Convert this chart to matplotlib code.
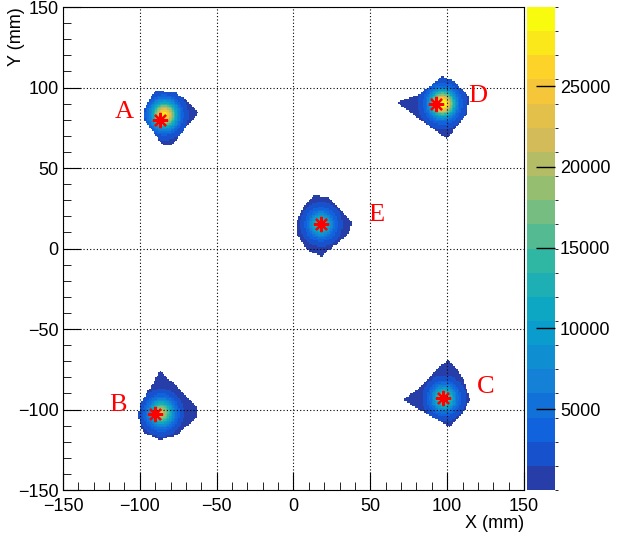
import numpy as np
import matplotlib.pyplot as plt
from matplotlib.colors import LinearSegmentedColormap, BoundaryNorm
from matplotlib.path import Path

# spot labels and the points (mm)
names = ["A", "B", "C", "D", "E"]
peak_x = [-84, -86, 98, 97, 18]
peak_y = [83, -102, -93, 90, 15]
peak_val = [27500, 20500, 17000, 29500, 14500]
star_x = [-87, -90, 97, 93, 18]
star_y = [80, -103, -93, 90, 15]
label_x = [-110, -114, 125, 120, 54]
label_y = [85, -97, -86, 95, 21]

# outlines of the filled regions
outline_A = [(-90, 98), (-77, 97), (-69, 92), (-62, 85), (-63, 82), (-71, 74),
             (-79, 64), (-85, 64), (-91, 72), (-97, 80), (-97, 86), (-93, 94)]
outline_B = [(-87, -76), (-80, -82), (-69, -92), (-63, -98), (-63, -105),
             (-76, -116), (-87, -119), (-98, -114), (-101, -105), (-100, -97),
             (-93, -86)]
outline_C = [(101, -69), (106, -74), (111, -82), (115, -94), (110, -102),
             (102, -111), (89, -104), (71, -94), (80, -88), (93, -75)]
outline_D = [(67, 91), (82, 96), (97, 107), (106, 103), (114, 94), (113, 84),
             (100, 68), (87, 77), (71, 88)]
outline_E = [(13, 33), (22, 32), (32, 23), (38, 16), (36, 9), (18, -5),
             (9, -1), (2, 9), (2, 17), (7, 27)]
outlines = [outline_A, outline_B, outline_C, outline_D, outline_E]

zmax = 29900
nlev = 20

# ROOT kBird palette
stops = [0.0, 0.125, 0.25, 0.375, 0.5, 0.625, 0.75, 0.875, 1.0]
red = [0.2082, 0.0592, 0.0780, 0.0232, 0.1802, 0.5301, 0.8186, 0.9956, 0.9764]
green = [0.1664, 0.3599, 0.5041, 0.6419, 0.7178, 0.7492, 0.7328, 0.7862, 0.9832]
blue = [0.5293, 0.8684, 0.8385, 0.7914, 0.6425, 0.4662, 0.3499, 0.1968, 0.0539]
bird = LinearSegmentedColormap.from_list(
    "bird", list(zip(stops, zip(red, green, blue))))
# colour picked per contour level the way ROOT does it
cols = [bird(int((i + 0.99) * 255 / nlev) / 254) for i in range(nlev)]
cmap = LinearSegmentedColormap.from_list("bird20", cols, N=nlev)
levels = np.linspace(0, zmax, nlev + 1)
norm = BoundaryNorm(levels, nlev)

edges = np.arange(-150, 151, 1.0)
cx = 0.5 * (edges[:-1] + edges[1:])
X, Y = np.meshgrid(cx, cx)
pts = np.column_stack([X.ravel(), Y.ravel()])
Z = np.zeros_like(X)
for i in range(len(names)):
    inside = Path(outlines[i]).contains_points(pts).reshape(X.shape)
    r2 = (X - peak_x[i]) ** 2 + (Y - peak_y[i]) ** 2
    val = 600 + peak_val[i] * (0.9 * np.exp(-r2 / (2 * 5.3 ** 2))
                               + 0.1 * np.exp(-r2 / (2 * 9.0 ** 2)))
    Z = np.where(inside, np.maximum(Z, val), Z)
Z = np.ma.masked_where(Z <= 0, Z)

fig = plt.figure(figsize=(6.31, 5.39), dpi=100)
ax = fig.add_axes([0.0998, 0.0909, 0.7306, 0.8961])
cax = fig.add_axes([0.835, 0.0909, 0.0445, 0.8961])

mesh = ax.pcolormesh(edges, edges, Z, cmap=cmap, norm=norm)
ax.plot(star_x, star_y, ls="none", marker=(8, 2, 0), ms=11, mew=1.6,
        color="red", zorder=5)
for i in range(len(names)):
    ax.text(label_x[i], label_y[i], names[i], color="red", fontsize=19,
            family="Liberation Serif", ha="center", va="center")

ax.set_xlim(-150, 150)
ax.set_ylim(-150, 150)
ax.set_xticks(np.arange(-150, 151, 50))
ax.set_yticks(np.arange(-150, 151, 50))
ax.set_xticks(np.arange(-150, 151, 10), minor=True)
ax.set_yticks(np.arange(-150, 151, 10), minor=True)
ax.tick_params(which="both", direction="in", top=False, right=False,
               labelsize=13, pad=3)
ax.tick_params(axis="x", which="both", pad=6)
ax.tick_params(which="major", length=13)
ax.tick_params(which="minor", length=6)
for lab in ax.get_xticklabels() + ax.get_yticklabels():
    lab.set_family("Liberation Sans")
ax.grid(True, ls=(0, (1, 2)), color="black", lw=0.8)
ax.set_axisbelow(False)
ax.set_xlabel("X (mm)", fontsize=13, family="Liberation Sans", loc="right",
              labelpad=0)
ax.set_ylabel("Y (mm)", fontsize=13, family="Liberation Sans", loc="top")
ax.yaxis.set_label_coords(-0.082, 1.0)

cb = fig.colorbar(mesh, cax=cax, ticks=[5000, 10000, 15000, 20000, 25000])
cb.outline.set_visible(False)
cax.tick_params(direction="in", length=14, labelsize=13, width=1)
for lab in cax.get_yticklabels():
    lab.set_family("Liberation Sans")

fig.savefig("out.png", dpi=100)
